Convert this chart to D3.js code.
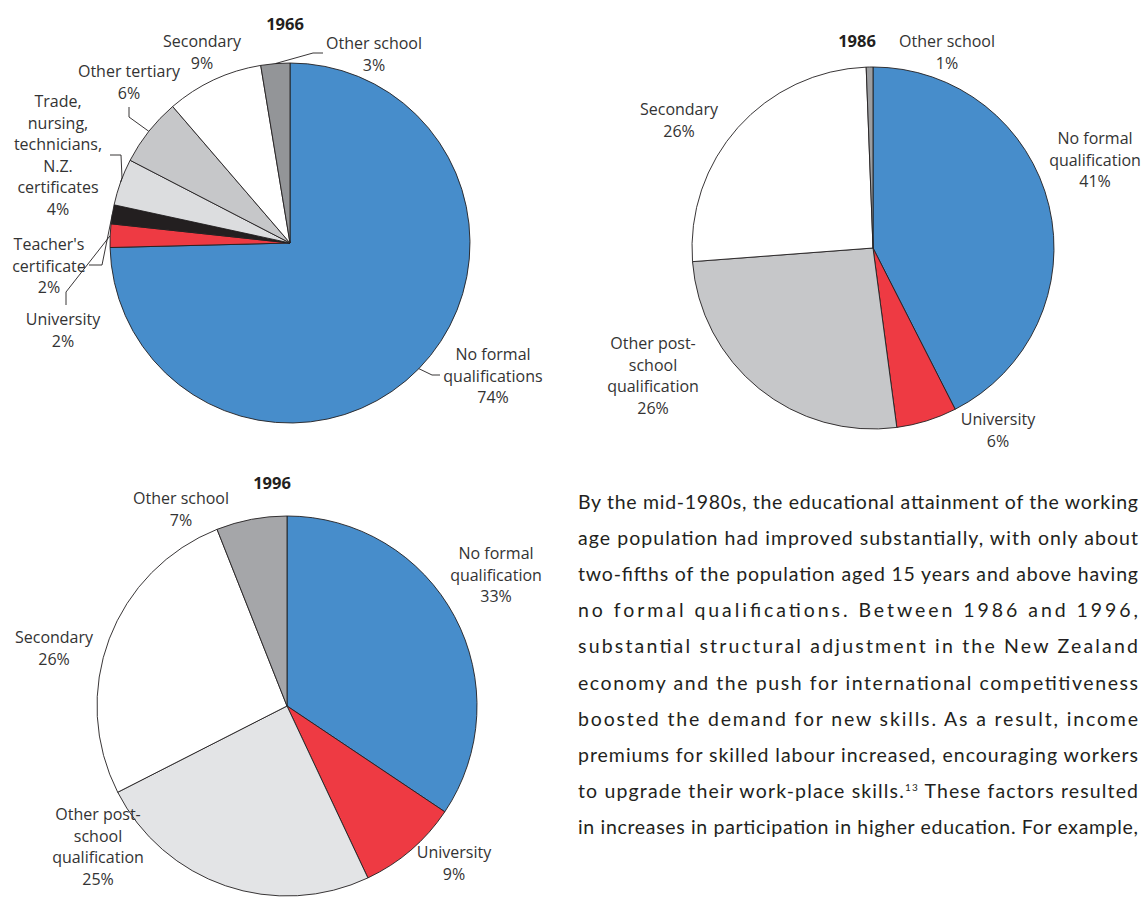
<!DOCTYPE html>
<html lang="en">
<head>
<meta charset="UTF-8">
<title>Educational attainment 1966-1996</title>
<style>
  body { margin: 0; background: #fff; }
  svg text { font-family: "Open Sans", "Noto Sans", sans-serif; fill: #333; }
</style>
</head>
<body>
<script src="https://cdn.jsdelivr.net/npm/d3@7"></script>
<script>
// ---- data ----
var cats66 = ["No formal qualifications", "University", "Teacher's certificate",
  "Trade, nursing, technicians, N.Z. certificates", "Other tertiary", "Secondary", "Other school"];
var vals66 = [74.6, 2.1, 1.7, 4.2, 6.1, 8.7, 2.6];
var pct66 = ["74%", "2%", "2%", "4%", "6%", "9%", "3%"];
var lines66 = [["No formal", "qualifications"], ["University"], ["Teacher's", "certificate"],
  ["Trade,", "nursing,", "technicians,", "N.Z.", "certificates"], ["Other tertiary"], ["Secondary"], ["Other school"]];

var cats86 = ["No formal qualification", "University", "Other post-school qualification", "Secondary", "Other school"];
var vals86 = [42.5, 5.4, 25.9, 25.6, 0.6];
var pct86 = ["41%", "6%", "26%", "26%", "1%"];
var lines86 = [["No formal", "qualification"], ["University"], ["Other post-", "school", "qualification"], ["Secondary"], ["Other school"]];

var cats96 = ["No formal qualification", "University", "Other post-school qualification", "Secondary", "Other school"];
var vals96 = [34.4, 8.6, 24.5, 26.5, 6.0];
var pct96 = ["33%", "9%", "25%", "26%", "7%"];
var lines96 = [["No formal", "qualification"], ["University"], ["Other post-", "school", "qualification"], ["Secondary"], ["Other school"]];

var years = ["1966", "1986", "1996"];

var paragraph = [
  "By the mid-1980s, the educational attainment of the working",
  "age population had improved substantially, with only about",
  "two-fifths of the population aged 15 years and above having",
  "no formal qualifications.  Between 1986 and 1996,",
  "substantial structural adjustment in the New Zealand",
  "economy and the push for international competitiveness",
  "boosted the demand for new skills.  As a result, income",
  "premiums for skilled labour increased, encouraging workers",
  "to upgrade their work-place skills.|13|  These factors resulted",
  "in increases in participation in higher education.  For example,"
];

// ---- colours ----
var colorMap = {
  "No formal qualifications": "#478dcb",
  "No formal qualification": "#478dcb",
  "University": "#ee3a43",
  "Teacher's certificate": "#231f20",
  "Trade, nursing, technicians, N.Z. certificates": "#dcdddf",
  "Other tertiary": "#c6c7c9",
  "Secondary": "#ffffff",
  "Other school": "#939598",
  "Other post-school qualification": "#c6c7c9"
};

var svg = d3.select("body").append("svg").attr("width", 1141).attr("height", 918);

// label layout: [centre x, first baseline y], optional leader polyline start points
var charts = [
  {
    year: years[0], cats: cats66, vals: vals66, pct: pct66, lines: lines66,
    cx: 290, cy: 243, r: 180, title: [285, 30],
    labels: [[493, 360], [63, 325], [49, 250], [58, 107], [129, 77], [202, 47], [374, 49]],
    leaders: [[[440, 375], [432, 375]], [[66, 305], [66, 292]], [[89, 265], [102, 265]],
      [[110, 155], [121, 155], [122, 178]], [[129, 107], [129, 117]], null, [[323, 53], [313, 53]]],
    colors: null
  },
  {
    year: years[1], cats: cats86, vals: vals86, pct: pct86, lines: lines86,
    cx: 873, cy: 248, r: 181, title: [857, 47],
    labels: [[1095, 144], [998, 425], [653, 349], [679, 115], [947, 47]],
    leaders: [null, null, null, null, null],
    colors: { "Other school": "#9c9ea1" }
  },
  {
    year: years[2], cats: cats96, vals: vals96, pct: pct96, lines: lines96,
    cx: 287, cy: 706, r: 190, title: [272, 489],
    labels: [[496, 559], [454, 858], [98, 820], [54, 643], [181, 504]],
    leaders: [null, null, null, null, null],
    colors: { "Other post-school qualification": "#e3e4e6", "Other school": "#a5a6a9" }
  }
];

var pie = d3.pie().sort(null).value(function (d) { return d.v; });

charts.forEach(function (c) {
  var data = c.cats.map(function (k, i) { return { k: k, v: c.vals[i], i: i }; });
  var arcs = pie(data);
  var arc = d3.arc().innerRadius(0).outerRadius(c.r);
  var edge = d3.arc().innerRadius(c.r).outerRadius(c.r);
  var g = svg.append("g").attr("transform", "translate(" + c.cx + "," + c.cy + ")");

  g.selectAll("path").data(arcs).enter().append("path")
    .attr("d", arc)
    .attr("fill", function (d) {
      var k = d.data.k;
      return (c.colors && c.colors[k]) || colorMap[k];
    })
    .attr("stroke", "#231f20")
    .attr("stroke-width", 0.9)
    .attr("stroke-linejoin", "round");

  // title
  svg.append("text").attr("x", c.title[0]).attr("y", c.title[1])
    .attr("text-anchor", "middle").style("font-weight", "bold").style("font-size", "16.5px")
    .style("fill", "#231f20").text(c.year);

  // labels
  arcs.forEach(function (d, i) {
    var pos = c.labels[i];
    var t = svg.append("text").attr("text-anchor", "middle").style("font-size", "16px");
    var ls = c.lines[i].concat([c.pct[i]]);
    ls.forEach(function (s, j) {
      t.append("tspan").attr("x", pos[0]).attr("y", pos[1] + j * 21.6).text(s);
    });
    var ld = c.leaders[i];
    if (ld) {
      var e = edge.centroid(d);
      var pts = ld.concat([[c.cx + e[0], c.cy + e[1]]]);
      svg.append("path").attr("d", d3.line()(pts))
        .attr("fill", "none").attr("stroke", "#231f20").attr("stroke-width", 0.9);
    }
  });
});

// ---- paragraph ----
var para = svg.append("g");
paragraph.forEach(function (line, i) {
  var t = para.append("text")
    .attr("x", 578).attr("y", 509 + i * 36.1)
    .attr("textLength", 560).attr("lengthAdjust", "spacing")
    .style("font-family", "Lato, 'Open Sans', sans-serif")
    .style("font-size", "19.5px").style("fill", "#231f20");
  var parts = line.split("|");
  parts.forEach(function (p, j) {
    if (j === 1) {
      t.append("tspan").attr("dy", -7).style("font-size", "10px").text(p);
    } else if (j === 2) {
      t.append("tspan").attr("dy", 7).text(p);
    } else {
      t.append("tspan").text(p);
    }
  });
});
</script>
</body>
</html>
